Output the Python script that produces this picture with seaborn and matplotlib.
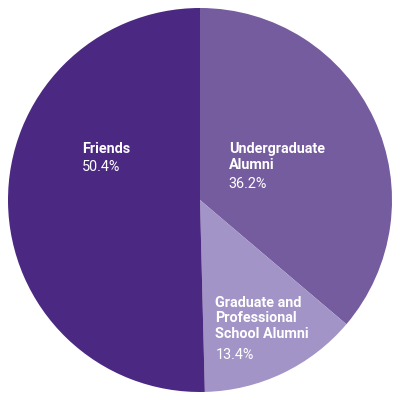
import matplotlib
matplotlib.use("Agg")
import matplotlib.pyplot as plt
import seaborn as sns

# data
groups = ["Undergraduate\nAlumni", "Graduate and\nProfessional\nSchool Alumni", "Friends"]
shares = [36.2, 13.4, 50.4]
colors = ["#745c9e", "#a294c6", "#4b2882"]

# where each label block starts (top-left corner, in pie units)
label_pos = [(0.15, 0.30), (0.08, -0.50), (-0.615, 0.30)]

sns.set_theme(style="white")
plt.rcParams['font.family'] = ['Roboto', 'DejaVu Sans']

fig = plt.figure(figsize=(4, 4), dpi=100)
ax = fig.add_axes([0, 0, 1, 1])

pal = sns.color_palette(colors)
ax.pie(shares, colors=pal, startangle=90, counterclock=False,
       wedgeprops={'linewidth': 0})

line_h = 12.4  # points between lines
for name, val, (x, y) in zip(groups, shares, label_pos):
    n_lines = name.count("\n") + 1
    ax.annotate(name, xy=(x, y), xytext=(0, 0), textcoords='offset points',
                ha='left', va='top', color='white', fontsize=10.4,
                fontweight='semibold', linespacing=1.13)
    ax.annotate(f"{val}%", xy=(x, y), xytext=(0, -line_h * n_lines),
                textcoords='offset points', ha='left', va='top',
                color='white', fontsize=10.4)

lim = 200 / 192
ax.set_xlim(-lim, lim)
ax.set_ylim(-lim, lim)
ax.set_aspect('equal')
ax.axis('off')

plt.savefig("out.png", dpi=100, facecolor='white')
plt.close()
